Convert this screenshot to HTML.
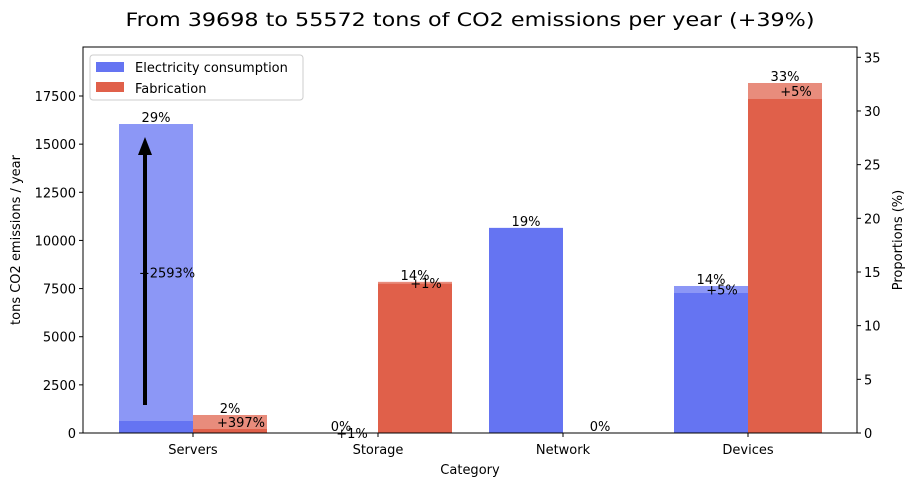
<!DOCTYPE html>
<html><head><meta charset="utf-8"><style>
body{margin:0;background:#fff;}
svg text{font-family:"DejaVu Sans","Liberation Sans",sans-serif;}
</style></head><body>
<svg id="chart" width="915" height="486" xmlns="http://www.w3.org/2000/svg">
<text x="470" y="26" font-size="19" text-anchor="middle" textLength="689" lengthAdjust="spacingAndGlyphs">From 39698 to 55572 tons of CO2 emissions per year (+39%)</text>
<g id="plot"></g>
</svg>
<script>
const categories=["Servers","Storage","Network","Devices"];
const elecOld=[623,0,10650,7270];
const elecNew=[16046,0,10650,7634];
const fabOld=[208,7750,0,17345];
const fabNew=[935,7850,0,18176];
const elecPct=["29%","0%","19%","14%"];
const fabPct=["2%","14%","0%","33%"];
const elecChg=["+2593%","+1%","",  "+5%"];
const fabChg=["+397%","+1%","","+5%"];
const yTicks=[0,2500,5000,7500,10000,12500,15000,17500];
const y2Ticks=[0,5,10,15,20,25,30,35];

const NS="http://www.w3.org/2000/svg";
const g=document.getElementById('plot');
const L=83,R=857,T=47,B=433,YMAX=20045,Y2MAX=35.96;
const y=v=>B-v/YMAX*(B-T);
const y2=v=>B-v/Y2MAX*(B-T);
const xc=i=>193+i*185;
const BW=74;
function el(tag,attrs,txt){const e=document.createElementNS(NS,tag);for(const k in attrs)e.setAttribute(k,attrs[k]);if(txt!==undefined)e.textContent=txt;g.appendChild(e);return e;}

categories.forEach((c,i)=>{
  const xe=xc(i)-BW, xf=xc(i);
  let r;
  r=el('rect',{x:xe,y:y(elecNew[i]),width:BW,height:B-y(elecNew[i]),fill:'#8c97f6'});
  
  
  r=el('rect',{x:xe,y:y(elecOld[i]),width:BW,height:B-y(elecOld[i]),fill:'#6574f2'});
  
  
  r=el('rect',{x:xf,y:y(fabNew[i]),width:BW,height:B-y(fabNew[i]),fill:'#e88c7c'});
  
  
  r=el('rect',{x:xf,y:y(fabOld[i]),width:BW,height:B-y(fabOld[i]),fill:'#e0604a'});
  
  
  let t=el('text',{x:xe+BW/2,y:y(elecNew[i])-2,'font-size':13,'text-anchor':'middle'},elecPct[i]);
  
  
  t=el('text',{x:xf+BW/2,y:y(fabNew[i])-2,'font-size':13,'text-anchor':'middle'},fabPct[i]);
  
  
  if(elecChg[i]){t=el('text',{x:xe+BW/2+11,y:(y(elecOld[i])+y(elecNew[i]))/2+5,'font-size':13,'text-anchor':'middle'},elecChg[i]);
    
    }
  if(fabChg[i]){t=el('text',{x:xf+BW/2+11,y:(y(fabOld[i])+y(fabNew[i]))/2+5,'font-size':13,'text-anchor':'middle'},fabChg[i]);
    
    }
  let tk=el('line',{x1:xc(i),x2:xc(i),y1:B,y2:B+4,stroke:'#000'});
  
  
  t=el('text',{x:xc(i),y:B+21,'font-size':13,'text-anchor':'middle'},c);
  
  
});
const ax=xc(0)-BW+26;
let a=el('line',{x1:ax,x2:ax,y1:y(elecOld[0])-16,y2:y(elecNew[0])+28,stroke:'#000','stroke-width':4});


a=el('polygon',{points:`${ax-7},${y(elecNew[0])+31} ${ax+7},${y(elecNew[0])+31} ${ax},${y(elecNew[0])+13}`,fill:'#000'});



yTicks.forEach(v=>{
  let l=el('line',{x1:L-4,x2:L,y1:y(v),y2:y(v),stroke:'#000'});
  
  
  let t=el('text',{x:L-7,y:y(v)+5,'font-size':13,'text-anchor':'end'},v);
  
  
});
y2Ticks.forEach(v=>{
  let l=el('line',{x1:R,x2:R+4,y1:y2(v),y2:y2(v),stroke:'#000'});
  
  
  let t=el('text',{x:R+7,y:y2(v)+5,'font-size':13},v);
  
  
});
let fr=el('rect',{x:L,y:T,width:R-L,height:B-T,fill:'none',stroke:'#000','stroke-width':1});


let t=el('text',{x:470,y:474,'font-size':13,'text-anchor':'middle'},'Category');


t=el('text',{x:20,y:240,'font-size':13,'text-anchor':'middle',transform:'rotate(-90 20 240)'},'tons CO2 emissions / year');


t=el('text',{x:902,y:240,'font-size':13,'text-anchor':'middle',transform:'rotate(-90 902 240)'},'Proportions (%)');


let lg=el('rect',{x:90,y:55,width:213,height:45,fill:'#fff',stroke:'#ccc',rx:3});


lg=el('rect',{x:96,y:62,width:28,height:10,fill:'#6574f2'});


lg=el('rect',{x:96,y:82,width:28,height:10,fill:'#e0604a'});


t=el('text',{x:135,y:72,'font-size':13},'Electricity consumption');


t=el('text',{x:135,y:93,'font-size':13},'Fabrication');


</script>
</body></html>
